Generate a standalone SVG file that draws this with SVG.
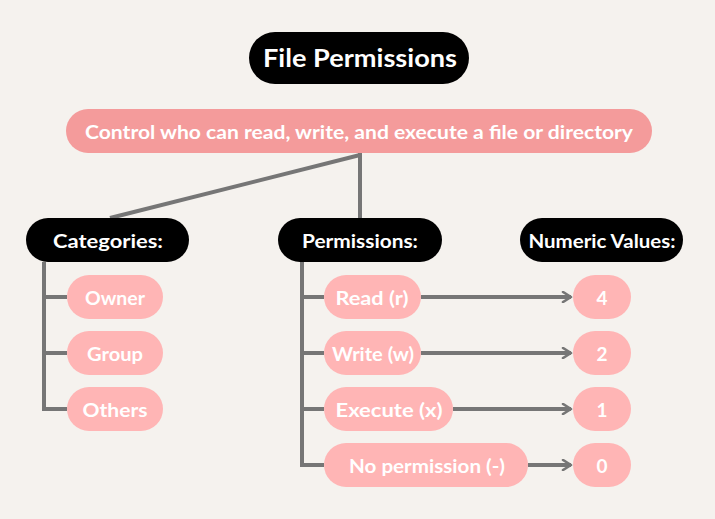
<svg xmlns="http://www.w3.org/2000/svg" width="715" height="519" viewBox="0 0 715 519">
<defs>
<style>
.dark{fill:#000}
.pink{fill:#ffb5b5}
.sub{fill:#f49b9b}
text{font-family:"Lato","Open Sans","DejaVu Sans",sans-serif;font-weight:bold;fill:#fff;text-anchor:middle;dominant-baseline:central}
.t1{font-size:25px}
.t2{font-size:19px}
.t3{font-size:19px}
.c{fill:none;stroke:#767676;stroke-width:4}
</style>
<marker id="arr" viewBox="0 0 12 12" refX="10" refY="6" markerWidth="12" markerHeight="12" markerUnits="userSpaceOnUse" orient="auto">
<path d="M2,1 L10,6 L2,11" fill="none" stroke="#767676" stroke-width="2.6" stroke-linecap="round" stroke-linejoin="round"/>
</marker>
</defs>
<rect width="715" height="519" fill="#f5f2ee"/>
<g id="connectors">
<path class="c" d="M360,153 V218"/>
<path class="c" d="M360,155 L110,218"/>
<path class="c" d="M44,262 V409 H67 M44,297 H67 M44,353 H67"/>
<path class="c" d="M302,262 V465 H324 M302,297 H324 M302,353 H324 M302,409 H324"/>
<path class="c" d="M421,297 H571" marker-end="url(#arr)"/>
<path class="c" d="M421,353 H571" marker-end="url(#arr)"/>
<path class="c" d="M453,409 H571" marker-end="url(#arr)"/>
<path class="c" d="M528,465 H571" marker-end="url(#arr)"/>
</g>
<g id="title"><rect class="dark" x="249" y="32" width="220" height="52" rx="26"/><text class="t1" x="360" y="57" textLength="194" lengthAdjust="spacingAndGlyphs">File Permissions</text></g>
<g id="subtitle"><rect class="sub" x="66" y="109" width="586" height="44" rx="22"/><text class="t2" x="359" y="131" textLength="548" lengthAdjust="spacingAndGlyphs">Control who can read, write, and execute a file or directory</text></g>
<g id="categories"><rect class="dark" x="26" y="218" width="163" height="44" rx="22"/><text class="t3" x="108" y="240" textLength="110" lengthAdjust="spacingAndGlyphs">Categories:</text></g>
<g id="owner"><rect class="pink" x="67" y="275" width="96" height="44" rx="22"/><text class="t3" x="115" y="297" textLength="60" lengthAdjust="spacingAndGlyphs">Owner</text></g>
<g id="group"><rect class="pink" x="67" y="331" width="96" height="44" rx="22"/><text class="t3" x="115" y="353" textLength="56" lengthAdjust="spacingAndGlyphs">Group</text></g>
<g id="others"><rect class="pink" x="67" y="387" width="96" height="44" rx="22"/><text class="t3" x="115" y="409" textLength="65" lengthAdjust="spacingAndGlyphs">Others</text></g>
<g id="permissions"><rect class="dark" x="278" y="218" width="164" height="44" rx="22"/><text class="t3" x="360" y="240" textLength="116" lengthAdjust="spacingAndGlyphs">Permissions:</text></g>
<g id="read"><rect class="pink" x="324" y="275" width="97" height="44" rx="22"/><text class="t3" x="372" y="297" textLength="73" lengthAdjust="spacingAndGlyphs">Read (r)</text></g>
<g id="write"><rect class="pink" x="324" y="331" width="97" height="44" rx="22"/><text class="t3" x="373" y="353" textLength="82" lengthAdjust="spacingAndGlyphs">Write (w)</text></g>
<g id="execute"><rect class="pink" x="324" y="387" width="129" height="44" rx="22"/><text class="t3" x="389" y="409" textLength="107" lengthAdjust="spacingAndGlyphs">Execute (x)</text></g>
<g id="nopermission"><rect class="pink" x="324" y="443" width="204" height="44" rx="22"/><text class="t3" x="427" y="465" textLength="156" lengthAdjust="spacingAndGlyphs">No permission (-)</text></g>
<g id="numeric"><rect class="dark" x="520" y="218" width="163" height="44" rx="22"/><text class="t3" x="602" y="240" textLength="147" lengthAdjust="spacingAndGlyphs">Numeric Values:</text></g>
<g id="v4"><rect class="pink" x="573" y="275" width="58" height="44" rx="22"/><text class="t3" x="602" y="297">4</text></g>
<g id="v2"><rect class="pink" x="573" y="331" width="58" height="44" rx="22"/><text class="t3" x="602" y="353">2</text></g>
<g id="v1"><rect class="pink" x="573" y="387" width="58" height="44" rx="22"/><text class="t3" x="602" y="409">1</text></g>
<g id="v0"><rect class="pink" x="573" y="443" width="58" height="44" rx="22"/><text class="t3" x="602" y="465">0</text></g>
</svg>
